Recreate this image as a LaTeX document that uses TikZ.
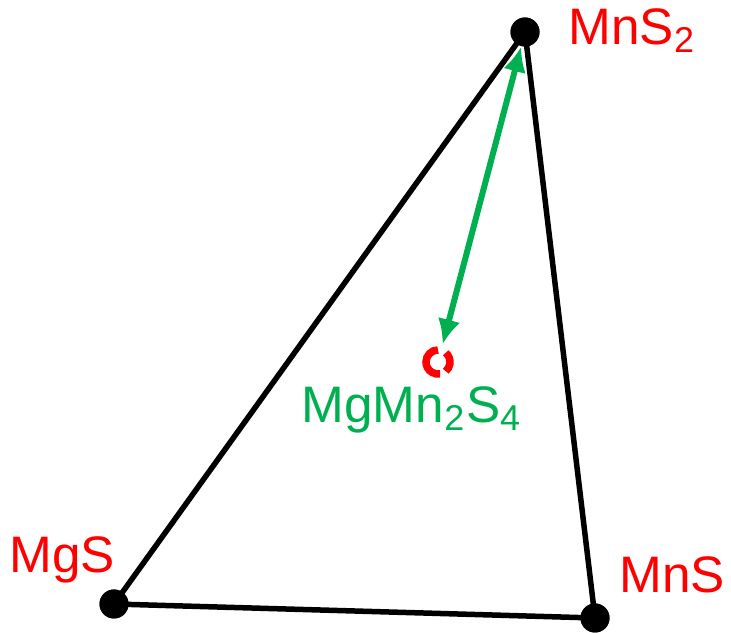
\documentclass[tikz,border=0pt]{standalone}
\usepackage{fontspec}
\setmainfont{Liberation Sans}
\usepackage{tikz}
\usetikzlibrary{arrows.meta}
\usepackage{xcolor}
\definecolor{phasegreen}{RGB}{0,176,80}

\begin{document}
\begin{tikzpicture}[
  vertex/.style={circle,fill=black,inner sep=0pt,minimum size=0.29cm},
  phaselabel/.style={inner sep=0pt,anchor=base west,text=red,font=\fontsize{14.6}{17}\selectfont},
  edge/.style={line width=0.055cm,black}]
\useasboundingbox (0,0) rectangle (7.31,6.33);
% corners of the triangle
\node[vertex] (mns2) at (5.25,6.01) {};
\node[vertex] (mgs) at (1.14,0.29) {};
\node[vertex] (mns) at (5.95,0.15) {};
\draw[edge] (mns2.center) -- (mgs.center) -- (mns.center) -- cycle;
\node[vertex] at (mns2.center) {};
\node[vertex] at (mgs.center) {};
\node[vertex] at (mns.center) {};

% labels
\node[phaselabel] (lmns2) at (5.68,5.88) {MnS\textsubscript{2}};
\node[phaselabel] (lmgs) at (0.09,0.60) {MgS};
\node[phaselabel] (lmns) at (6.19,0.40) {MnS};

% ternary compound
\node[inner sep=0pt,minimum size=0.34cm] (ring) at (4.38,2.71) {};
\draw[red,line width=0.075cm] ([shift={(90:0.12)}]ring.center) arc (90:280:0.12);
\draw[red,line width=0.075cm] ([shift={(50:0.12)}]ring.center) arc (50:-50:0.12);
\node[phaselabel,text=phasegreen] (lmgmn2s4) at (3.01,2.10) {MgMn\textsubscript{2}S\textsubscript{4}};
\draw[phasegreen,line width=0.06cm,{Latex[length=0.25cm,width=0.23cm]}-{Latex[length=0.25cm,width=0.23cm]}] (mns2) -- (ring);
\end{tikzpicture}
\end{document}
